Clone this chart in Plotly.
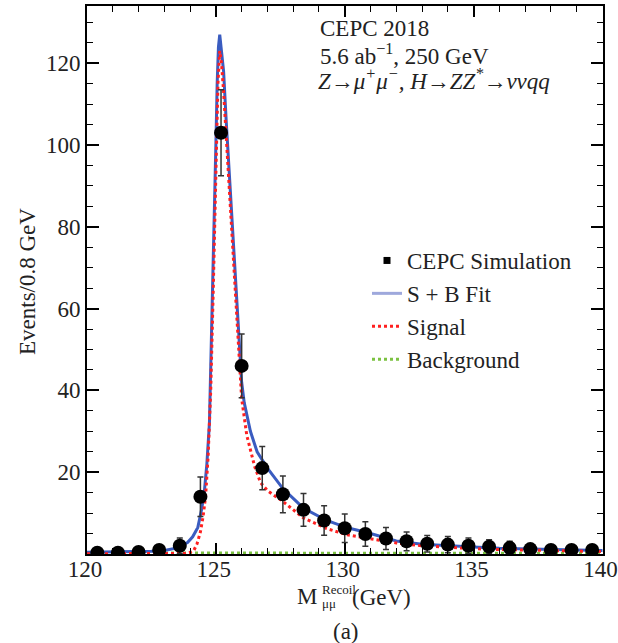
import plotly.graph_objects as go

# ---- data ----
bin_centers = [120.4, 121.2, 122.0, 122.8, 123.6, 124.4, 125.2, 126.0, 126.8, 127.6,
               128.4, 129.2, 130.0, 130.8, 131.6, 132.4, 133.2, 134.0, 134.8, 135.6,
               136.4, 137.2, 138.0, 138.8, 139.6]
events = [0.3, 0.3, 0.5, 1.0, 2.0, 14.0, 103.0, 46.0, 21.0, 14.6,
          10.8, 8.2, 6.3, 4.9, 3.8, 3.1, 2.5, 2.3, 2.0, 1.8,
          1.5, 1.2, 1.0, 1.0, 1.0]
errors = [0.5, 0.5, 0.6, 1.1, 1.9, 4.8, 10.5, 7.8, 5.3, 4.5,
          4.0, 3.6, 3.5, 3.0, 2.7, 2.3, 2.0, 2.0, 1.9, 1.7,
          1.6, 1.3, 1.2, 1.2, 1.1]

fit_x = [120.0, 121.0, 122.0, 122.5, 123.0, 123.5, 123.9, 124.1, 124.3, 124.45,
         124.55, 124.65, 124.75, 124.85, 124.92, 125.0, 125.05, 125.1, 125.15, 125.2,
         125.3, 125.4, 125.5, 125.63, 125.75, 125.85, 126.0, 126.1, 126.34, 126.6,
         127.0, 127.6, 128.4, 129.3, 130.1, 130.9, 132.0, 133.0, 134.0, 135.0,
         136.0, 137.0, 138.0, 139.0, 140.0]
fit_y = [0.4, 0.45, 0.55, 0.65, 0.85, 1.5, 2.8, 4.2, 6.5, 11.0,
         15.0, 22.0, 32.0, 57.0, 75.0, 100.0, 115.0, 124.0, 127.0, 124.0,
         118.0, 106.0, 95.0, 82.0, 68.0, 57.0, 42.0, 37.0, 30.0, 25.0,
         21.0, 16.0, 11.2, 8.2, 6.4, 5.2, 3.2, 2.4, 2.0, 1.7,
         1.4, 1.2, 1.05, 0.95, 0.85]

sig_x = [120.0, 123.0, 123.8, 124.0, 124.14, 124.27, 124.4, 124.5, 124.6, 124.7,
         124.8, 124.9, 125.0, 125.08, 125.15, 125.22, 125.3, 125.4, 125.5, 125.63,
         125.75, 125.85, 126.0, 126.2, 126.5, 126.73, 127.0, 127.63, 128.4, 129.3,
         130.1, 131.0, 132.0, 133.0, 134.0, 135.0, 136.0, 137.0, 138.0, 139.0, 140.0]
sig_y = [0.05, 0.08, 0.15, 0.4, 0.8, 2.5, 5.4, 9.0, 14.0, 24.0,
         40.0, 65.0, 95.0, 115.0, 123.0, 120.0, 113.0, 102.0, 91.0, 78.0,
         64.0, 53.0, 38.0, 29.0, 21.5, 17.5, 15.5, 12.7, 8.8, 6.2,
         4.7, 3.7, 2.7, 2.0, 1.6, 1.3, 1.1, 0.95, 0.8, 0.7, 0.6]

bkg_x = [120.0, 125.0, 130.0, 135.0, 140.0]
bkg_y = [0.25, 0.22, 0.2, 0.18, 0.16]

x_ticks = [120, 125, 130, 135, 140]
y_ticks = [20, 40, 60, 80, 100, 120]

FONT = "Liberation Serif"
BLUE = "#3a5cc0"
RED = "#ff2020"
GREEN = "#7cc242"

fig = go.Figure()

fig.add_trace(go.Scatter(x=bkg_x, y=bkg_y, mode="lines", showlegend=False,
                         line=dict(color=GREEN, width=3, dash="dot")))
fig.add_trace(go.Scatter(x=fit_x, y=fit_y, mode="lines", showlegend=False,
                         line=dict(color=BLUE, width=3)))
fig.add_trace(go.Scatter(x=sig_x, y=sig_y, mode="lines", showlegend=False,
                         line=dict(color=RED, width=3, dash="dot")))
fig.add_trace(go.Scatter(x=bin_centers, y=events, mode="markers", showlegend=False,
                         marker=dict(color="black", size=14),
                         error_y=dict(type="data", array=errors, color="#333333",
                                      thickness=1.5, width=3)))

# legend-only entries
fig.add_trace(go.Scatter(x=[None], y=[None], mode="markers", name="CEPC Simulation",
                         marker=dict(color="black", size=7, symbol="square")))
fig.add_trace(go.Scatter(x=[None], y=[None], mode="lines", name="S + B Fit",
                         line=dict(color="#9ea8dc", width=3)))
fig.add_trace(go.Scatter(x=[None], y=[None], mode="lines", name="Signal",
                         line=dict(color=RED, width=3, dash="dot")))
fig.add_trace(go.Scatter(x=[None], y=[None], mode="lines", name="Background",
                         line=dict(color=GREEN, width=3, dash="dot")))

axis_common = dict(showgrid=False, zeroline=False, showline=True, linecolor="black",
                   linewidth=2, mirror="allticks", ticks="inside", tickcolor="black",
                   tickwidth=1.5, automargin=False,
                   tickfont=dict(family=FONT, size=23, color="#222222"))

fig.update_xaxes(range=[120, 140.02], tickvals=x_ticks, ticklen=11, ticklabelstandoff=-7,
                 ticklabeloverflow="allow", ticklabelshift=-2,
                 minor=dict(dtick=1, ticks="inside", ticklen=6, tickcolor="black", tickwidth=1),
                 **axis_common)
fig.update_yaxes(range=[0, 134], tickvals=y_ticks, ticklen=12,
                 minor=dict(dtick=5, ticks="inside", ticklen=6, tickcolor="black", tickwidth=1),
                 **axis_common)

def py(p):
    # pixel y -> paper y (plot area from y=6 to y=554)
    return (554 - p) / 548.0

def px(p):
    return (p - 87) / 516.0

ann = []
tf = dict(family=FONT, size=23, color="#222222")
ann.append(dict(text="CEPC 2018", x=px(318), y=py(29), xanchor="left", yanchor="middle", font=tf))
ann.append(dict(text="5.6 ab<sup>−1</sup>, 250 GeV", x=px(318), y=py(54), xanchor="left", yanchor="middle", font=tf))
ann.append(dict(text="<i>Z→μ<sup>+</sup>μ<sup>−</sup>, H→ZZ<sup>*</sup>→ννqq</i>", x=px(316), y=py(79),
                xanchor="left", yanchor="middle", font=tf))
# y title
ann.append(dict(text="Events/0.8 GeV", x=px(28), y=py(282), xanchor="center", yanchor="middle",
                textangle=-90, font=dict(family=FONT, size=23, color="#222222")))
# x title
ann.append(dict(text="M", x=px(319), y=py(596), xanchor="right", yanchor="middle", font=tf))
ann.append(dict(text="Recoil", x=px(320), y=py(589), xanchor="left", yanchor="middle",
                font=dict(family=FONT, size=13, color="#222222")))
ann.append(dict(text="μμ", x=px(320), y=py(603), xanchor="left", yanchor="middle",
                font=dict(family=FONT, size=13, color="#222222")))
ann.append(dict(text="(GeV)", x=px(350), y=py(597), xanchor="left", yanchor="middle", font=tf))
ann.append(dict(text="(a)", x=px(346), y=py(631), xanchor="center", yanchor="middle", font=tf))

for a in ann:
    a.update(xref="paper", yref="paper", showarrow=False)

fig.update_layout(
    width=618, height=643,
    margin=dict(l=87, r=15, t=6, b=89, autoexpand=False),
    paper_bgcolor="white", plot_bgcolor="white",
    annotations=ann,
    showlegend=True,
    legend=dict(x=px(367), y=py(239), xanchor="left", yanchor="top",
                bgcolor="rgba(0,0,0,0)", font=dict(family=FONT, size=23, color="#222222"),
                itemwidth=30, tracegroupgap=0),
)

fig.write_html("out.html")
